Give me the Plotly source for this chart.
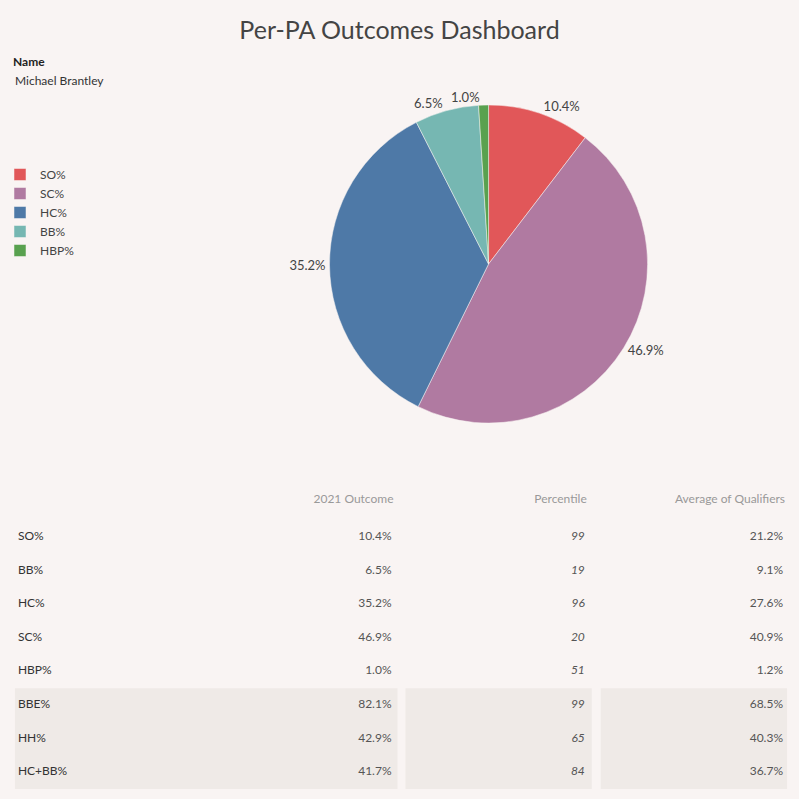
import plotly.graph_objects as go

# pie data
slice_labels = ['SO%', 'SC%', 'HC%', 'BB%', 'HBP%']
slice_values = [10.4, 46.9, 35.2, 6.5, 1.0]
slice_colors = ['#e15759', '#b07aa1', '#4e79a7', '#76b7b2', '#59a14f']

# table data
row_names = ['SO%', 'BB%', 'HC%', 'SC%', 'HBP%', 'BBE%', 'HH%', 'HC+BB%']
outcome_2021 = ['10.4%', '6.5%', '35.2%', '46.9%', '1.0%', '82.1%', '42.9%', '41.7%']
percentile = [99, 19, 96, 20, 51, 99, 65, 84]
avg_qualifiers = ['21.2%', '9.1%', '27.6%', '40.9%', '1.2%', '68.5%', '40.3%', '36.7%']
col_headers = ['2021 Outcome', 'Percentile', 'Average of Qualifiers']
player_name = 'Michael Brantley'

bg = '#f9f4f3'
shade = '#efeae7'
FONT = 'Lato, Open Sans, sans-serif'
pie_domain = dict(x=[0.40, 0.82], y=[0.4705, 0.8686])

fig = go.Figure()

# main pie; the tiny HBP label is drawn by an overlay pie so plotly
# doesn't push it away with a leader line
fig.add_trace(go.Pie(
    labels=slice_labels, values=slice_values,
    marker=dict(colors=slice_colors, line=dict(color=bg, width=0.5)),
    sort=False, direction='clockwise', rotation=0,
    texttemplate='%{value:.1f}%',
    textposition=['outside'] * 4 + ['none'],
    textfont=dict(size=13, color='#444', family=FONT),
    hoverinfo='label+value',
    domain=pie_domain,
))
fig.add_trace(go.Pie(
    labels=slice_labels, values=slice_values,
    marker=dict(colors=['rgba(0,0,0,0)'] * 5, line=dict(width=0)),
    sort=False, direction='clockwise', rotation=0,
    texttemplate='%{value:.1f}%',
    textposition=['none'] * 4 + ['outside'],
    textfont=dict(size=13, color='#444', family=FONT),
    hoverinfo='skip', showlegend=False,
    domain=pie_domain,
))

# table body as text on hidden axes
col_x = [390, 584, 783]
label_x = 15
n = len(row_names)

fig.add_trace(go.Scatter(
    x=[label_x] * n, y=list(range(n)), text=row_names, mode='text',
    textposition='middle right', textfont=dict(size=12, color='#333', family=FONT),
    showlegend=False, hoverinfo='skip'))
fig.add_trace(go.Scatter(
    x=[col_x[0]] * n, y=list(range(n)), text=outcome_2021, mode='text',
    textposition='middle left', textfont=dict(size=12, color='#555', family=FONT),
    showlegend=False, hoverinfo='skip'))
fig.add_trace(go.Scatter(
    x=[col_x[1]] * n, y=list(range(n)), text=[f'<i>{p}</i>' for p in percentile], mode='text',
    textposition='middle left', textfont=dict(size=12, color='#555', family=FONT),
    showlegend=False, hoverinfo='skip'))
fig.add_trace(go.Scatter(
    x=[col_x[2]] * n, y=list(range(n)), text=avg_qualifiers, mode='text',
    textposition='middle left', textfont=dict(size=12, color='#555', family=FONT),
    showlegend=False, hoverinfo='skip'))
fig.add_trace(go.Scatter(
    x=[c + 2 for c in col_x], y=[-1.1] * 3, text=col_headers, mode='text',
    textposition='middle left', textfont=dict(size=12, color='#999', family=FONT),
    showlegend=False, hoverinfo='skip'))

# shaded band behind the last three rows
for x0, x1 in [(12, 396), (404, 591), (600, 787)]:
    fig.add_shape(type='rect', xref='x', yref='y', x0=x0, x1=x1, y0=4.5, y1=7.5,
                  fillcolor=shade, line=dict(width=0), layer='below')

fig.add_annotation(text='<b>Name</b>', x=8 / 799, y=1 - 61 / 799, xref='paper', yref='paper',
                   xanchor='left', yanchor='middle', showarrow=False,
                   font=dict(size=12, color='#222', family=FONT))
fig.add_annotation(text=player_name, x=10 / 799, y=1 - 80 / 799, xref='paper', yref='paper',
                   xanchor='left', yanchor='middle', showarrow=False,
                   font=dict(size=12, color='#333', family=FONT))

fig.update_layout(
    width=799, height=799,
    margin=dict(l=0, r=0, t=0, b=0),
    paper_bgcolor=bg, plot_bgcolor=bg,
    title=dict(text='Per-PA Outcomes Dashboard', x=0.5, xanchor='center',
               y=1 - 30 / 799, yanchor='middle',
               font=dict(size=25, color='#444', family=FONT)),
    legend=dict(x=-0.004, y=1 - 160 / 799, xanchor='left', yanchor='top',
                font=dict(size=12, color='#444', family=FONT), bgcolor='rgba(0,0,0,0)',
                itemwidth=30),
    xaxis=dict(range=[0, 799], domain=[0, 1], visible=False, fixedrange=True),
    yaxis=dict(range=[7.80, -1.696], domain=[0, 319 / 799], visible=False, fixedrange=True),
)

fig.write_html("out.html", config={'displayModeBar': False},
               post_script="document.body.style.margin='0';document.body.style.overflow='hidden';")
